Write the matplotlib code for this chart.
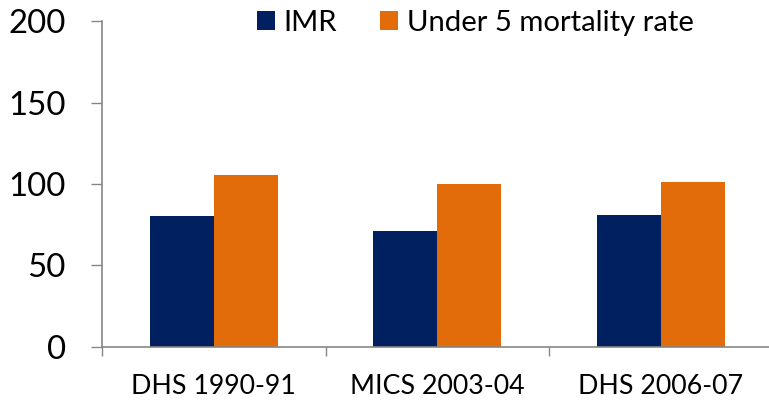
import matplotlib.pyplot as plt
import numpy as np

# values
surveys = ["DHS 1990-91", "MICS 2003-04", "DHS 2006-07"]
imr = [80.5, 71, 81]
under5 = [105.5, 100, 101]
yticks = [0, 50, 100, 150, 200]

navy = "#002060"
orange = "#E36C0A"
grey = "#868686"

plt.rcParams["font.family"] = ["Lato", "DejaVu Sans"]

fig = plt.figure(figsize=(7.69, 4.04), dpi=100)
W, H = 769, 404
# axes box in pixels: left spine at x=102, top at y=21, baseline at y=347
left, top, bottom = 102, 21.3, 346.7
cat_w = 223.6
ax = fig.add_axes([left / W, 1 - bottom / H, 3 * cat_w / W, (bottom - top) / H])

x = np.arange(len(surveys))
bw = 64 / cat_w
ax.bar(x - bw / 2, imr, width=bw, color=navy, label="IMR")
ax.bar(x + bw / 2, under5, width=bw, color=orange, label="Under 5 mortality rate")

ax.set_xlim(-0.5, len(surveys) - 0.5)
ax.set_ylim(0, 200)
ax.set_yticks(yticks)
ax.tick_params(axis="y", labelsize=23.8, length=8, width=1, color=grey, pad=18)

# category labels centred, tick marks at category boundaries
ax.set_xticks(x)
ax.set_xticklabels(surveys, fontsize=19.3)
ax.tick_params(axis="x", length=0, pad=20)
ax.set_xticks(np.arange(len(surveys) + 1) - 0.5, minor=True)
ax.tick_params(axis="x", which="minor", length=6.5, width=1, color=grey)

for side in ["top", "right"]:
    ax.spines[side].set_visible(False)
for side in ["left", "bottom"]:
    ax.spines[side].set_color(grey)
    ax.spines[side].set_linewidth(1.2)

fig.legend(loc="upper left", bbox_to_anchor=(257 / W, 1 - 10 / H), ncol=2, frameon=False,
           fontsize=21.1, handlelength=0.62, handleheight=0.62, handletextpad=0.29,
           columnspacing=1.47, borderaxespad=0, borderpad=0)

fig.savefig("out.png", dpi=100)
